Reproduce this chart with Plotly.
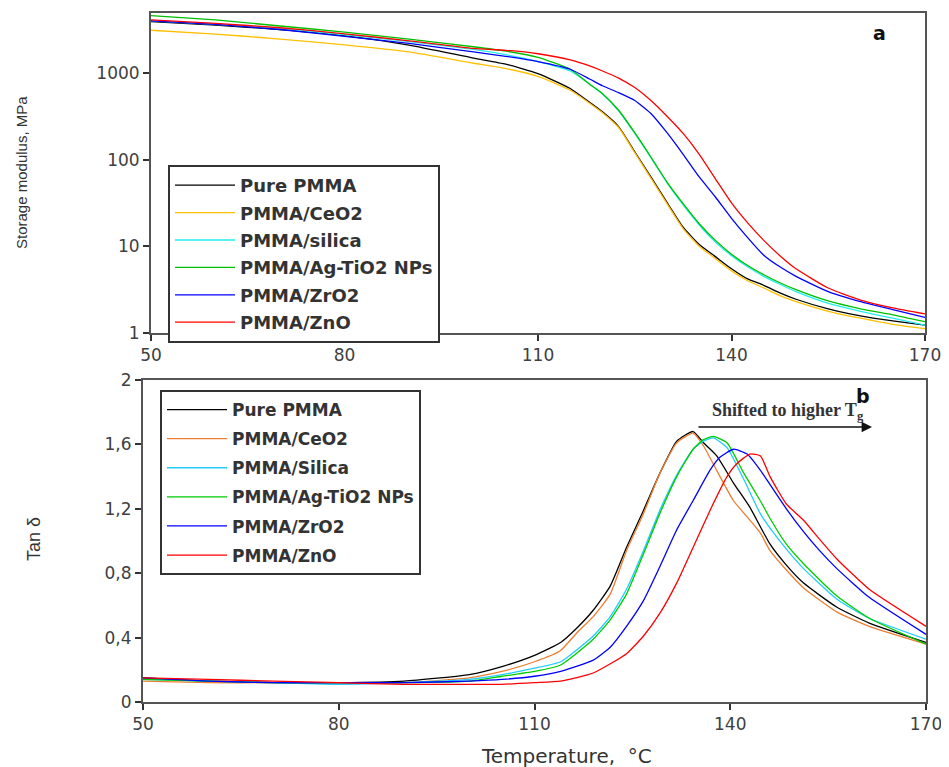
import plotly.graph_objects as go

# ---------------- (a) storage modulus, MPa ----------------
temp_a = [50, 60, 70, 80, 90, 100, 105, 110, 115, 118, 120, 122.5, 125, 127.5,
          130, 132.5, 135, 137.5, 140, 142.5, 145, 147.5, 150, 155, 160, 165, 170]
E_pure = [3890, 3550, 3160, 2690, 2090, 1480, 1260, 980, 660, 457, 355, 240, 123, 63,
          32, 16.6, 10.5, 7.6, 5.5, 4.2, 3.55, 2.9, 2.45, 1.9, 1.58, 1.38, 1.23]
E_ceo2 = [3100, 2800, 2450, 2100, 1740, 1290, 1120, 910, 630, 447, 347, 234, 120, 61,
          31, 16, 10, 7.2, 5.2, 4.0, 3.3, 2.7, 2.3, 1.78, 1.48, 1.26, 1.12]
E_silica = [3980, 3630, 3240, 2750, 2290, 1860, 1620, 1350, 1050, 740, 570, 365, 200, 105,
            54, 30, 17.6, 11.2, 7.8, 5.8, 4.5, 3.65, 3.0, 2.2, 1.78, 1.48, 1.23]
E_agtio2 = [4570, 4070, 3470, 2950, 2450, 2000, 1780, 1510, 1100, 740, 575, 370, 204, 107,
            55, 31, 18.2, 11.7, 8.1, 6.0, 4.7, 3.8, 3.16, 2.34, 1.9, 1.62, 1.35]
E_zro2 = [3980, 3630, 3160, 2630, 2190, 1740, 1550, 1350, 1100, 850, 710, 590, 480, 340,
          204, 115, 63, 37, 21, 12.6, 7.9, 5.8, 4.5, 3.0, 2.3, 1.86, 1.51]
E_zno = [4070, 3720, 3310, 2820, 2340, 1910, 1820, 1660, 1410, 1200, 1050, 870, 676, 479,
         316, 200, 115, 60, 31.6, 18.6, 11.7, 7.8, 5.5, 3.3, 2.4, 1.95, 1.66]

names_a = ["Pure PMMA", "PMMA/CeO2", "PMMA/silica", "PMMA/Ag-TiO2 NPs", "PMMA/ZrO2", "PMMA/ZnO"]
colors_a = ["#000000", "#FFC000", "#22EEEE", "#00C000", "#0000FF", "#FF0000"]
series_a = [E_pure, E_ceo2, E_silica, E_agtio2, E_zro2, E_zno]

# ---------------- (b) tan delta ----------------
t_pure = [50, 60, 70, 80, 90, 100, 105, 110, 114, 116.5, 119, 121.6, 124.1, 126.7, 129.2,
          131.8, 134.3, 135.9, 137.9, 140.5, 143, 144.6, 146.1, 148.6, 151.2, 156.3, 161.3, 170]
tan_pure = [0.15, 0.13, 0.12, 0.12, 0.13, 0.17, 0.22, 0.29, 0.37, 0.46, 0.57, 0.72, 0.96, 1.19,
            1.42, 1.62, 1.68, 1.61, 1.53, 1.36, 1.21, 1.09, 0.98, 0.85, 0.74, 0.59, 0.49, 0.37]
t_ceo2 = [50, 60, 70, 80, 90, 100, 105, 110, 114, 116.5, 119, 121.6, 124.1, 126.7, 129.2,
          131.8, 134.3, 135.9, 137.9, 140.5, 143, 144.6, 146.1, 148.6, 151.2, 156.3, 161.3, 170]
tan_ceo2 = [0.13, 0.12, 0.12, 0.12, 0.12, 0.15, 0.19, 0.25, 0.32, 0.43, 0.53, 0.67, 0.94, 1.17,
            1.42, 1.61, 1.67, 1.59, 1.44, 1.25, 1.13, 1.05, 0.94, 0.82, 0.71, 0.56, 0.47, 0.36]
t_silica = [50, 60, 70, 80, 90, 100, 105, 110, 114, 119, 121.6, 124.1, 126.7, 129.2, 131.8,
            134.3, 135.9, 137.4, 139.5, 142.1, 144.6, 146.1, 148.6, 151.2, 156.3, 161.3, 170]
tan_silica = [0.14, 0.13, 0.12, 0.11, 0.12, 0.14, 0.17, 0.21, 0.25, 0.41, 0.53, 0.70, 0.94, 1.19,
              1.41, 1.57, 1.62, 1.64, 1.58, 1.38, 1.17, 1.08, 0.95, 0.83, 0.64, 0.52, 0.39]
t_agtio2 = [50, 60, 70, 80, 90, 100, 105, 110, 114, 119, 121.6, 124.1, 126.7, 129.2, 131.8,
            134.3, 135.9, 137.4, 139.5, 142.1, 144.6, 146.1, 148.6, 151.2, 156.3, 161.3, 170]
tan_agtio2 = [0.14, 0.13, 0.12, 0.12, 0.12, 0.13, 0.16, 0.19, 0.23, 0.39, 0.51, 0.67, 0.92, 1.17,
              1.40, 1.57, 1.63, 1.65, 1.61, 1.42, 1.25, 1.14, 0.98, 0.86, 0.66, 0.52, 0.36]
t_zro2 = [50, 60, 70, 80, 90, 100, 105, 110, 114, 119, 121.6, 124.1, 126.7, 129.2, 131.8,
          134.3, 136.9, 138.4, 140.5, 142.6, 144.6, 146.1, 148.6, 151.2, 153.7, 156.3, 161.3, 170]
tan_zro2 = [0.15, 0.13, 0.12, 0.12, 0.12, 0.13, 0.14, 0.16, 0.19, 0.26, 0.34, 0.47, 0.63, 0.84,
            1.07, 1.25, 1.44, 1.52, 1.57, 1.54, 1.44, 1.35, 1.20, 1.06, 0.94, 0.83, 0.65, 0.42]
t_zno = [50, 60, 70, 80, 90, 100, 105, 110, 114, 119, 124.1, 126.7, 129.2, 131.8, 134.3,
         136.9, 139.5, 141, 143, 144.6, 146.1, 148.6, 151.2, 153.7, 156.3, 161.3, 170]
tan_zno = [0.15, 0.14, 0.13, 0.12, 0.11, 0.11, 0.11, 0.12, 0.13, 0.18, 0.30, 0.41, 0.55, 0.74,
           0.96, 1.19, 1.40, 1.48, 1.54, 1.53, 1.40, 1.23, 1.13, 1.01, 0.89, 0.70, 0.47]

names_b = ["Pure PMMA", "PMMA/CeO2", "PMMA/Silica", "PMMA/Ag-TiO2 NPs", "PMMA/ZrO2", "PMMA/ZnO"]
colors_b = ["#000000", "#ED7D31", "#22CCFF", "#00CC00", "#0000FF", "#FF0000"]
series_b = [(t_pure, tan_pure), (t_ceo2, tan_ceo2), (t_silica, tan_silica),
            (t_agtio2, tan_agtio2), (t_zro2, tan_zro2), (t_zno, tan_zno)]

x_ticks = [50, 80, 110, 140, 170]
ya_ticks = [1, 10, 100, 1000]
yb_ticks = [0, 0.4, 0.8, 1.2, 1.6, 2]
yb_ticktext = ["0", "0,4", "0,8", "1,2", "1,6", "2"]

fig = go.Figure()
for i, (nm, col, ys) in enumerate(zip(names_a, colors_a, series_a)):
    fig.add_trace(go.Scatter(x=temp_a, y=ys, name=nm, mode="lines",
                             line=dict(color=col, width=1.3, shape="spline", smoothing=0.5),
                             xaxis="x", yaxis="y", legend="legend",
                             legendgroup="a%d" % i))
for i, (nm, col, (xs, ys)) in enumerate(zip(names_b, colors_b, series_b)):
    fig.add_trace(go.Scatter(x=xs, y=ys, name=nm, mode="lines",
                             line=dict(color=col, width=1.3, shape="spline", smoothing=0.5),
                             xaxis="x2", yaxis="y2", legend="legend2",
                             legendgroup="b%d" % i))

# page body has an 8 px margin: the figure is placed at (8, 8) in the window
OFF = 8
W, H = 949 - OFF, 767 - OFF


def fx(p):
    return (p - OFF) / W


def fy(p):
    return 1 - (p - OFF) / H


axis_common = dict(showgrid=False, zeroline=False, showline=True, mirror=True,
                   linecolor="#555555", linewidth=2, ticks="outside", ticklen=6,
                   tickcolor="#333333", tickwidth=1.5, automargin=False)
tickfont = dict(family="DejaVu Sans", size=17, color="#404040")

fig.update_layout(
    template="none",
    width=W, height=H, autosize=False,
    margin=dict(l=0, r=0, t=0, b=0, pad=0),
    paper_bgcolor="white", plot_bgcolor="white",
    xaxis=dict(domain=[fx(151), fx(925)], anchor="y", range=[50, 170],
               tickvals=x_ticks, tickfont=tickfont, **axis_common),
    yaxis=dict(domain=[fy(333), fy(13)], anchor="x", type="log",
               range=[0, 3.69], tickvals=ya_ticks, ticktext=["1", "10", "100", "1000"],
               tickfont=tickfont, **axis_common),
    xaxis2=dict(domain=[fx(143), fx(926)], anchor="y2", range=[50, 170],
                tickvals=x_ticks, tickfont=tickfont, **axis_common),
    yaxis2=dict(domain=[fy(702), fy(380)], anchor="x2", range=[0, 2],
                tickvals=yb_ticks, ticktext=yb_ticktext, tickfont=tickfont, **axis_common),
    legend=dict(x=fx(168), y=fy(165), xanchor="left", yanchor="top",
                bordercolor="#333333", borderwidth=2, bgcolor="white",
                font=dict(family="DejaVu Sans", size=18, color="#333333", weight="bold"),
                tracegroupgap=1, itemwidth=60),
    legend2=dict(x=fx(160), y=fy(390), xanchor="left", yanchor="top",
                 bordercolor="#333333", borderwidth=2, bgcolor="white",
                 font=dict(family="DejaVu Sans", size=17, color="#333333", weight="bold"),
                 tracegroupgap=4, itemwidth=60),
    showlegend=True,
)

annots = [
    dict(text="Storage modulus, MPa", x=fx(22), y=fy(173), textangle=-90,
         font=dict(family="Liberation Sans", size=15, color="#333333")),
    dict(text="Tan δ", x=fx(34), y=fy(539), textangle=-90,
         font=dict(family="Liberation Sans", size=18, color="#333333")),
    dict(text="Temperature,  °C", x=fx(566), y=fy(756),
         font=dict(family="DejaVu Sans", size=20, color="#333333")),
    dict(text="<b>a</b>", x=fx(879), y=fy(33),
         font=dict(family="DejaVu Sans", size=19, color="#111111")),
    dict(text="<b>b</b>", x=fx(863), y=fy(396),
         font=dict(family="DejaVu Sans", size=19, color="#111111")),
    dict(text="<b>Shifted to higher T<sub>g</sub></b>", x=fx(788), y=fy(412),
         font=dict(family="Liberation Serif", size=18, color="#333333")),
]
for a in annots:
    a.update(xref="paper", yref="paper", showarrow=False, xanchor="center", yanchor="middle")
    fig.add_annotation(**a)

fig.add_annotation(xref="paper", yref="paper", x=fx(872), y=fy(427),
                   ax=-(872 - 697), ay=0, axref="pixel", ayref="pixel",
                   showarrow=True, arrowhead=2, arrowsize=1.3, arrowwidth=1.6,
                   arrowcolor="#111111", text="")

fig.write_html("out.html")
